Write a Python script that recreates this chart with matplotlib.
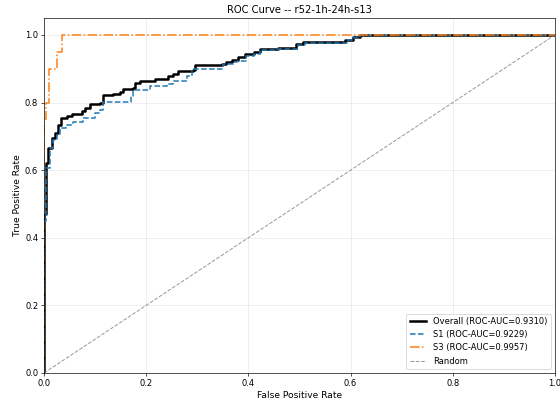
import matplotlib
matplotlib.use("Agg")
import matplotlib.pyplot as plt

title = "ROC Curve -- r52-1h-24h-s13"

overall_fpr = [0, 0, 0.003, 0.008, 0.015, 0.021, 0.028, 0.034, 0.045, 0.055, 0.074, 0.080, 0.090, 0.110,
               0.116, 0.135, 0.148, 0.155, 0.175, 0.178, 0.188, 0.217, 0.243, 0.252, 0.263, 0.292, 0.295,
               0.348, 0.357, 0.367, 0.380, 0.393, 0.410, 0.423, 0.458, 0.494, 0.507, 0.576, 0.589, 0.605,
               0.618, 1.0]
overall_tpr = [0, 0.47, 0.62, 0.666, 0.695, 0.71, 0.735, 0.754, 0.76, 0.767, 0.774, 0.784, 0.796, 0.799,
               0.822, 0.824, 0.832, 0.841, 0.843, 0.858, 0.863, 0.871, 0.878, 0.885, 0.893, 0.895, 0.911,
               0.913, 0.919, 0.927, 0.934, 0.944, 0.95, 0.959, 0.962, 0.972, 0.978, 0.978, 0.986, 0.993,
               1.0, 1.0]

s1_fpr = [0, 0, 0.004, 0.012, 0.018, 0.025, 0.031, 0.044, 0.057, 0.077, 0.1, 0.11, 0.116, 0.171, 0.175,
          0.207, 0.24, 0.252, 0.279, 0.289, 0.344, 0.35, 0.37, 0.377, 0.396, 0.41, 0.423, 0.455, 0.498,
          0.511, 0.579, 0.592, 0.605, 0.618, 1.0]
s1_tpr = [0, 0.45, 0.607, 0.666, 0.69, 0.705, 0.725, 0.735, 0.743, 0.754, 0.769, 0.779, 0.802, 0.819, 0.838,
          0.848, 0.855, 0.863, 0.878, 0.898, 0.900, 0.914, 0.92, 0.924, 0.939, 0.945, 0.954, 0.959, 0.969,
          0.976, 0.976, 0.984, 0.991, 1.0, 1.0]

s3_fpr = [0, 0, 0.003, 0.010, 0.025, 0.035, 1.0]
s3_tpr = [0, 0.75, 0.80, 0.90, 0.95, 1.0, 1.0]

labels = ["Overall (ROC-AUC=0.9310)", "S1 (ROC-AUC=0.9229)", "S3 (ROC-AUC=0.9957)", "Random"]

fig = plt.figure(figsize=(560 / 60, 406 / 60), dpi=60)
ax = fig.add_axes([44 / 560, 1 - 373 / 406, 511 / 560, 355 / 406])

ax.plot(overall_fpr, overall_tpr, drawstyle="steps-post", color="black", lw=3, label=labels[0])
ax.plot(s1_fpr, s1_tpr, drawstyle="steps-post", color="#1f77b4", lw=1.8, ls="--", label=labels[1])
ax.plot(s3_fpr, s3_tpr, drawstyle="steps-post", color="#ff7f0e", lw=1.8, ls="-.", label=labels[2])
ax.plot([0, 1], [0, 1], color="gray", lw=1.2, ls="--", alpha=0.8, label=labels[3])

ax.set_xlim(0, 1)
ax.set_ylim(0, 1.05)
ax.set_xlabel("False Positive Rate", fontsize=11)
ax.set_ylabel("True Positive Rate", fontsize=11)
ax.set_title(title, fontsize=12)
ax.tick_params(labelsize=10)
ax.grid(True, alpha=0.3)
ax.legend(loc="lower right", fontsize=10)

fig.savefig("out.png", dpi=60)
